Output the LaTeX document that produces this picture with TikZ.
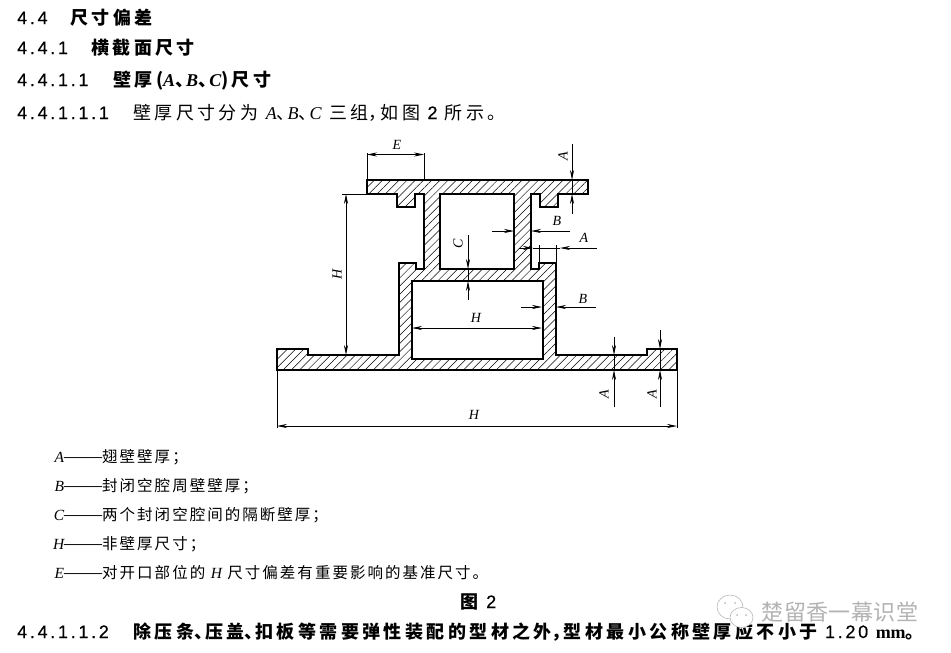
\documentclass[tikz,border=0pt]{standalone}
\usepackage{fontspec}
\setmainfont{Noto Sans CJK SC}[LetterSpace=19]
\newfontfamily\keyfont{Noto Sans CJK SC}[LetterSpace=13]
\newfontfamily\markfont{Noto Sans CJK SC}[LetterSpace=2]
\newfontfamily\numfont{Liberation Sans}[LetterSpace=15,FakeBold=.4]
\newfontfamily\latfont{Liberation Serif}
\usetikzlibrary{arrows.meta,patterns.meta}

\newcommand{\lat}[1]{{\latfont\itshape #1}}
\newcommand{\blat}[1]{{\latfont\bfseries\itshape #1}}
\newcommand{\num}[2]{\makebox[#1pt][l]{\numfont\mdseries #2}}
\newcommand{\dun}{\makebox[11pt][l]{、}}
\newcommand{\dou}{\makebox[12pt][l]{，}}
\newcommand{\keyhead}[1]{\makebox[50pt][r]{\lat{#1}{\latfont\fontsize{19}{19}\selectfont ——}}}

\tikzset{
  textline/.style={anchor=base west,inner sep=0pt,font=\fontsize{18}{18}\selectfont},
  headline/.style={textline,font=\fontsize{18}{18}\selectfont\bfseries},
  keyline/.style={textline,font=\fontsize{15.5}{16}\selectfont\keyfont},
  dimlabel/.style={inner sep=0pt,font=\fontsize{14}{14}\selectfont\latfont\itshape},
  dimline/.style={->,>={Stealth[length=10pt,width=4pt]},line width=.7pt},
  dimboth/.style={dimline,<->},
  extline/.style={line width=.7pt},
  profile/.style={line width=1.5pt,even odd rule,
    pattern={Lines[angle=45,distance=5.8pt,line width=.5pt]}}
}

\begin{document}
\begin{tikzpicture}[x=1pt,y=-1pt]
    \useasboundingbox (0,0) rectangle (951,653);
    %% node
    \node (sec1) [headline] at (17,24) {\num{53}{4.4}尺寸偏差};
    \node (sec2) [headline] at (17,54) {\num{74}{4.4.1}横截面尺寸};
    \node (sec3) [headline] at (17,86) {\num{96}{4.4.1.1}壁厚(\blat{A}\dun\blat{B}\dun\blat{C})尺寸};
    \node (sec4) [textline] at (17,119) {\num{116}{4.4.1.1.1}壁厚尺寸分为 \lat{A}\dun\lat{B}\dun\lat{C} 三组\dou 如图 {\numfont 2} 所示。};

    \node (keyA) [keyline] at (52,462) {\keyhead{A}翅壁壁厚；};
    \node (keyB) [keyline] at (52,491) {\keyhead{B}封闭空腔周壁壁厚；};
    \node (keyC) [keyline] at (52,520) {\keyhead{C}两个封闭空腔间的隔断壁厚；};
    \node (keyH) [keyline] at (52,549) {\keyhead{H}非壁厚尺寸；};
    \node (keyE) [keyline] at (52,578) {\keyhead{E}对开口部位的 \lat{H} 尺寸偏差有重要影响的基准尺寸。};
    \node (fig) [headline] at (460,608) {图\hspace{8pt}{\numfont\mdseries 2}};
    \node (sec5) [headline] at (17,638) {\num{116}{4.4.1.1.2}除压条\dun 压盖\dun 扣板等需要弹性装配的型材之外\dou 型材最小公称壁厚应不小于 {\numfont\mdseries 1.20} {\latfont mm}。};

    \node (labE) [dimlabel] at (397,145) {E};
    \node (labH1) [dimlabel,rotate=90] at (337,274) {H};
    \node (labC) [dimlabel,rotate=90] at (458,244) {C};
    \node (labA1) [dimlabel,rotate=90] at (563,156) {A};
    \node (labB1) [dimlabel] at (557,221) {B};
    \node (labA2) [dimlabel] at (584,238) {A};
    \node (labB2) [dimlabel] at (583,299) {B};
    \node (labH2) [dimlabel] at (476,318) {H};
    \node (labA3) [dimlabel,rotate=90] at (604,394) {A};
    \node (labA4) [dimlabel,rotate=90] at (652,394) {A};
    \node (labH3) [dimlabel] at (474,415) {H};

    %% profile
    \path[profile,draw=black]
      (277,349) -- (308,349) -- (308,355) -- (399,355) -- (399,263) -- (416,263) -- (416,269)
      -- (424,269) -- (424,194) -- (415,194) -- (415,207) -- (397,207) -- (397,194) -- (367,194)
      -- (367,180) -- (588,180) -- (588,194) -- (558,194) -- (558,207) -- (540,207) -- (540,194)
      -- (531,194) -- (531,269) -- (539,269) -- (539,263) -- (556,263) -- (556,355) -- (647,355)
      -- (647,349) -- (677,349) -- (677,370) -- (277,370) -- cycle
      (440,194) -- (514,194) -- (514,269) -- (440,269) -- cycle
      (412,281) -- (543,281) -- (543,359) -- (412,359) -- cycle;

    %% coordinate
    \coordinate (eL0) at (367,153); \coordinate (eL1) at (367,180);
    \coordinate (eR0) at (424,153); \coordinate (eR1) at (424,180);
    \coordinate (eL) at (367,154.5); \coordinate (eR) at (424,154.5);
    \coordinate (hT0) at (342,194); \coordinate (hT1) at (367,194);
    \coordinate (hT) at (346,194); \coordinate (hB) at (346,355);
    \coordinate (cA) at (468,235); \coordinate (cB) at (468,269);
    \coordinate (cC) at (468,300); \coordinate (cD) at (468,281);
    \coordinate (aA) at (572,144); \coordinate (aB) at (572,180);
    \coordinate (aC) at (572,214); \coordinate (aD) at (572,194);
    \coordinate (bA) at (492,231); \coordinate (bB) at (514,231);
    \coordinate (bC) at (570,231); \coordinate (bD) at (531,231);
    \coordinate (dA) at (519,248); \coordinate (dB) at (533,248);
    \coordinate (dC) at (597,248); \coordinate (dD) at (560,248);
    \coordinate (dE) at (539,245); \coordinate (dF) at (539,263);
    \coordinate (dG) at (556,245); \coordinate (dH) at (556,263);
    \coordinate (fA) at (521,307); \coordinate (fB) at (542,307);
    \coordinate (fC) at (596,307); \coordinate (fD) at (556,307);
    \coordinate (gA) at (412,328); \coordinate (gB) at (542,328);
    \coordinate (kA) at (614,337); \coordinate (kB) at (614,355);
    \coordinate (kC) at (614,407); \coordinate (kD) at (614,370);
    \coordinate (mA) at (660,330); \coordinate (mB) at (660,349);
    \coordinate (mC) at (660,407); \coordinate (mD) at (660,370);
    \coordinate (nL0) at (277,370); \coordinate (nL1) at (277,428);
    \coordinate (nR0) at (677,370); \coordinate (nR1) at (677,428);
    \coordinate (nL) at (277,426); \coordinate (nR) at (677,426);

    %% path
    \path[extline] (eL0) edge (eL1) (eR0) edge (eR1) (hT0) edge (hT1)
      (dE) edge (dF) (dG) edge (dH) (nL0) edge (nL1) (nR0) edge (nR1)
      (aB) edge (aD) (kB) edge (kD) (mB) edge (mD) (cB) edge (cD)
      (dB) edge (dD);
    \path[dimboth] (eL) edge (eR) (hT) edge (hB) (gA) edge (gB) (nL) edge (nR);
    \path[dimline] (cA) edge (cB) (cC) edge (cD)
      (aA) edge (aB) (aC) edge (aD)
      (bA) edge (bB) (bC) edge (bD)
      (dA) edge (dB) (dC) edge (dD)
      (fA) edge (fB) (fC) edge (fD)
      (kA) edge (kB) (kC) edge (kD)
      (mA) edge (mB) (mC) edge (mD);

    %% watermark
    \draw[gray!55,line width=.6pt] (730,607) ellipse (13 and 12);
    \draw[gray!55,line width=.6pt,fill=white] (741.5,617.5) ellipse (11.5 and 10);
    \fill[gray!55] (725,603) circle (1) (735,603) circle (1) (737,615) circle (1) (746,615) circle (1);
    \node (wmark) [inner sep=0pt,text=gray!60,font=\fontsize{22}{22}\selectfont\markfont] at (840,612) {楚留香一幕识堂};
\end{tikzpicture}
\end{document}
